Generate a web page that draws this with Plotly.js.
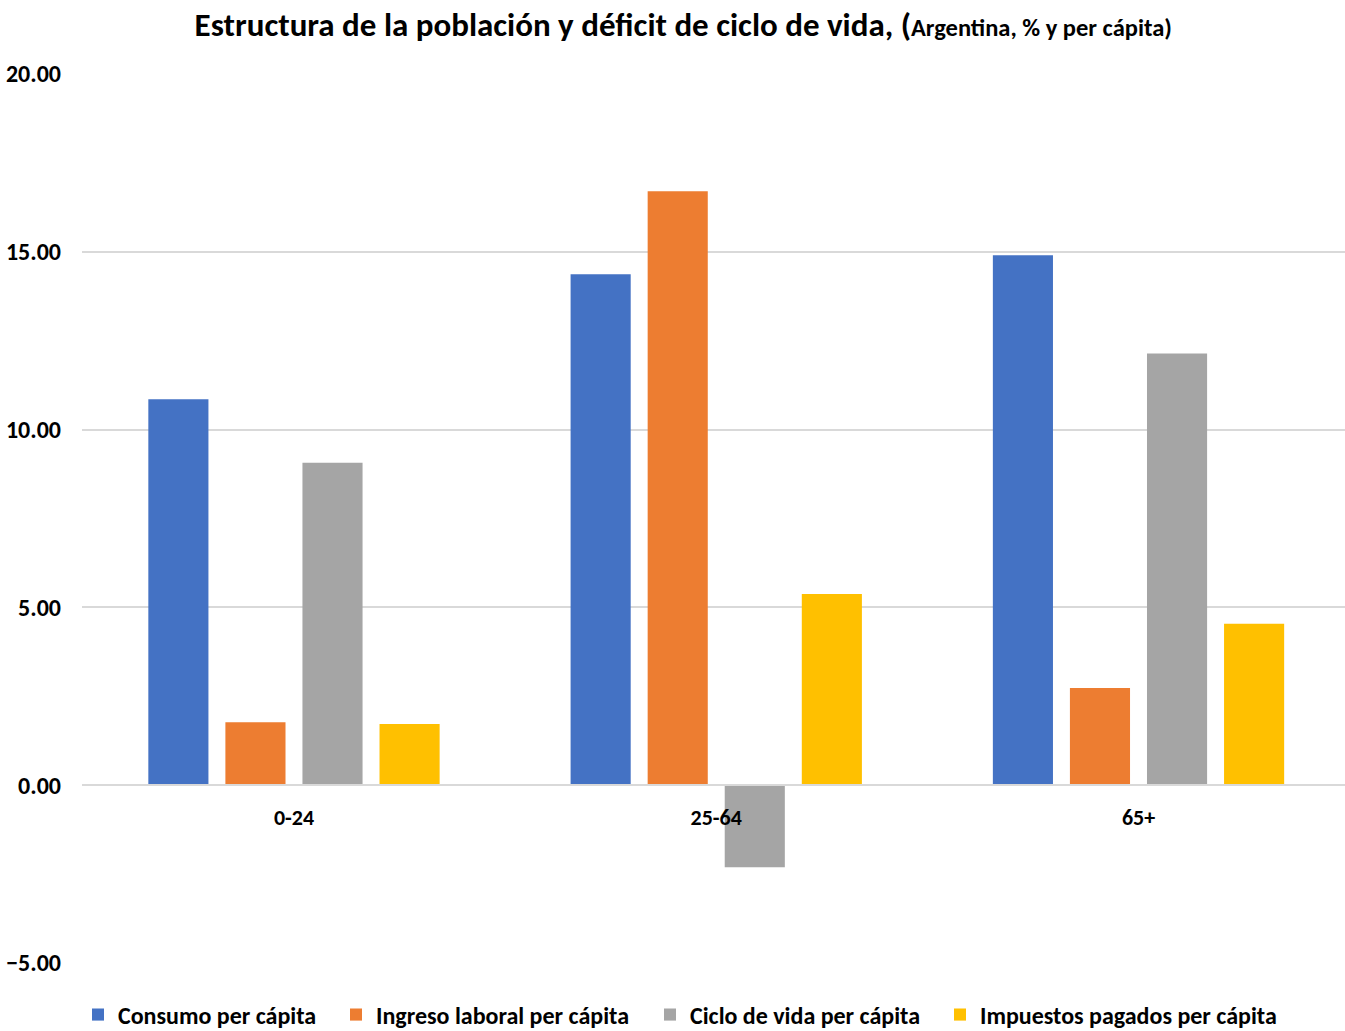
<!DOCTYPE html>
<html><head><meta charset="utf-8">
<script src="https://cdn.plot.ly/plotly-3.0.1.min.js"></script>
<style>body{margin:0;background:#fff}#c{width:1345px;height:1031px}</style>
</head><body><div id="c"></div>
<script>
const categories = ["0-24", "25-64", "65+"];
const consumo = [10.85, 14.37, 14.90];
const ingreso = [1.77, 16.70, 2.73];
const ciclo = [9.07, -2.31, 12.14];
const impuestos = [1.72, 5.38, 4.54];
const seriesNames = ["Consumo per cápita", "Ingreso laboral per cápita", "Ciclo de vida per cápita", "Impuestos pagados per cápita"];
const colors = ["#4472C4", "#ED7D31", "#A5A5A5", "#FFC000"];
const yTicks = [-5, 0, 5, 10, 15, 20];

const FONT = "Carlito, 'Liberation Sans Narrow', Lato, sans-serif";
const legendIds = ['legend', 'legend2', 'legend3', 'legend4'];
const legendTextStart = [118, 376, 690, 980];
const data = [consumo, ingreso, ciclo, impuestos].map((v, i) => ({
  type: 'bar', x: categories, y: v, name: seriesNames[i], legend: legendIds[i],
  marker: {color: colors[i]}, hoverinfo: 'none'
}));
const layout = {
  width: 1345, height: 1031,
  margin: {l: 82, r: 0, t: 74, b: 68, autoexpand: false},
  paper_bgcolor: '#fff', plot_bgcolor: '#fff',
  font: {family: FONT, color: '#000', size: 20, weight: 'bold'},
  title: {text: "Estructura de la población y déficit de ciclo de vida, (<span style='font-size:24.5px'>Argentina, % y per cápita)</span>",
          font: {family: FONT, size: 33, weight: 'bold', color: '#000'}, x: 0.508, xanchor: 'center', y: 0.976, yanchor: 'middle'},
  barmode: 'group', bargap: 0.27, bargroupgap: 0.22,
  xaxis: {type: 'category', range: [-0.502, 2.489], anchor: 'free', position: 0.2, automargin: false,
          showline: true, linecolor: '#d9d9d9', linewidth: 2, showgrid: false, ticks: '',
          ticklabelstandoff: 12, tickfont: {family: FONT, size: 22, weight: 'bold', color: '#000'}},
  yaxis: {range: [-5, 20], tickvals: yTicks, tickformat: '.2f', showgrid: true, gridcolor: '#d9d9d9', gridwidth: 2,
          zeroline: false, showline: false, ticks: '', ticklabelstandoff: 20, automargin: false,
          tickfont: {family: FONT, size: 24, weight: 'bold', color: '#000'}},
  showlegend: true
};
legendIds.forEach((id, i) => {
  layout[id] = {xref: 'container', yref: 'container', x: (legendTextStart[i] - 40) / 1345, xanchor: 'left',
                y: 16 / 1031, yanchor: 'middle', bgcolor: 'rgba(0,0,0,0)',
                font: {family: FONT, size: 24, weight: 'bold', color: '#000'}};
});
Plotly.newPlot('c', data, layout, {displayModeBar: false, staticPlot: true});
</script></body></html>
